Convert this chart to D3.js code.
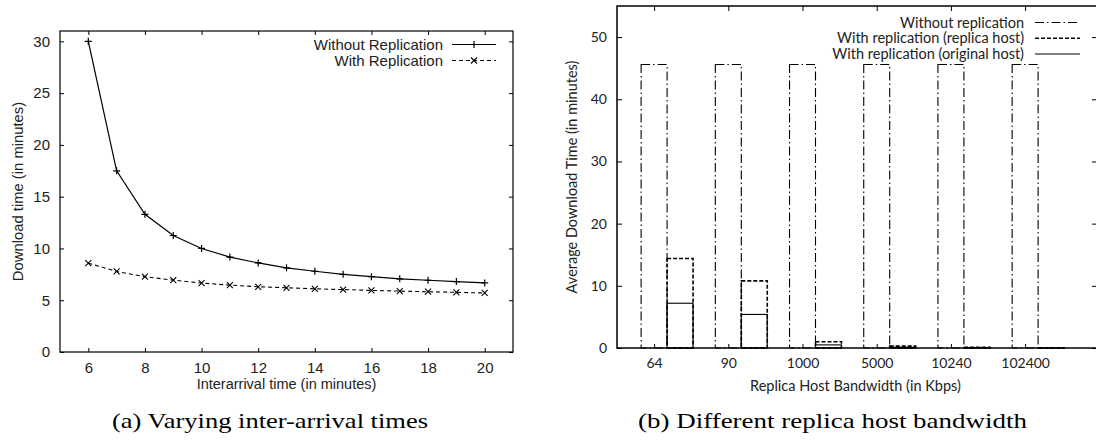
<!DOCTYPE html>
<html>
<head>
<meta charset="utf-8">
<script src="https://cdn.jsdelivr.net/npm/d3@7"></script>
<style>
  body { margin: 0; background: #fff; }
  svg { display: block; }
</style>
</head>
<body>
<div id="chart"></div>
<script>
// Data for (a): download time vs inter-arrival time
const interarrival = [6, 7, 8, 9, 10, 11, 12, 13, 14, 15, 16, 17, 18, 19, 20];
const withoutReplication = [30, 17.5, 13.3, 11.25, 10, 9.17, 8.6, 8.13, 7.8, 7.5, 7.27, 7.07, 6.93, 6.8, 6.67];
const withReplication = [8.58, 7.78, 7.27, 6.94, 6.66, 6.46, 6.3, 6.2, 6.1, 6.03, 5.95, 5.88, 5.82, 5.76, 5.7];
const xTicksA = [6, 8, 10, 12, 14, 16, 18, 20];
const yTicksA = [0, 5, 10, 15, 20, 25, 30];

// Data for (b): average download time vs replica host bandwidth
const bandwidths = ["64", "90", "1000", "5000", "10240", "102400"];
const bwWithout = [45.6, 45.6, 45.6, 45.6, 45.6, 45.6];
const bwReplicaHost = [14.4, 10.8, 1.0, 0.3, 0.12, 0.05];
const bwOriginalHost = [7.2, 5.4, 0.5, 0.12, 0.06, 0.03];
const yTicksB = [0, 10, 20, 30, 40, 50];

const svg = d3.select("#chart").append("svg")
    .attr("width", 1096)
    .attr("height", 443);

const fontA = "'Liberation Sans', Arial, sans-serif";
const fontB = "Lato, 'Open Sans', sans-serif";

// ---------- chart (a) ----------
const A = { left: 60, top: 31, right: 513, bottom: 352 };
const xA = d3.scaleLinear().domain([5, 21]).range([A.left, A.right]);
const yA = d3.scaleLinear().domain([0, 31]).range([A.bottom, A.top]);

const gA = svg.append("g");

function styleAxis(g, font, size) {
    g.select(".domain").remove();
    g.selectAll("line").attr("stroke", "#000");
    g.selectAll("text").attr("font-family", font).attr("font-size", size).attr("fill", "#222");
}

gA.append("g")
    .attr("transform", `translate(0,${A.bottom})`)
    .call(d3.axisBottom(xA).tickValues(xTicksA).tickSize(-4).tickSizeOuter(0).tickPadding(10))
    .call(g => styleAxis(g, fontA, 15));
gA.append("g")
    .attr("transform", `translate(0,${A.top})`)
    .call(d3.axisTop(xA).tickValues(xTicksA).tickSize(-4).tickSizeOuter(0).tickFormat(""))
    .call(g => styleAxis(g, fontA, 15));
gA.append("g")
    .attr("transform", `translate(${A.left},0)`)
    .call(d3.axisLeft(yA).tickValues(yTicksA).tickSize(-4).tickSizeOuter(0).tickPadding(10))
    .call(g => styleAxis(g, fontA, 15));
gA.append("g")
    .attr("transform", `translate(${A.right},0)`)
    .call(d3.axisRight(yA).tickValues(yTicksA).tickSize(-4).tickSizeOuter(0).tickFormat(""))
    .call(g => styleAxis(g, fontA, 15));

gA.append("rect")
    .attr("x", A.left).attr("y", A.top)
    .attr("width", A.right - A.left).attr("height", A.bottom - A.top)
    .attr("fill", "none").attr("stroke", "#000").attr("stroke-width", 1.2);

const lineA = d3.line().x((d, i) => xA(interarrival[i])).y(d => yA(d));

gA.append("path")
    .datum(withoutReplication)
    .attr("d", lineA)
    .attr("fill", "none").attr("stroke", "#000").attr("stroke-width", 1.2);

gA.append("path")
    .datum(withReplication)
    .attr("d", lineA)
    .attr("fill", "none").attr("stroke", "#000").attr("stroke-width", 1.1)
    .attr("stroke-dasharray", "4,3");

function plus(g, x, y, r) {
    g.append("path").attr("d", `M${x - r},${y}H${x + r}M${x},${y - r}V${y + r}`)
        .attr("stroke", "#000").attr("stroke-width", 1.2);
}
function cross(g, x, y, r) {
    g.append("path").attr("d", `M${x - r},${y - r}L${x + r},${y + r}M${x - r},${y + r}L${x + r},${y - r}`)
        .attr("stroke", "#000").attr("stroke-width", 1.1);
}
withoutReplication.forEach((d, i) => plus(gA, xA(interarrival[i]), yA(d), 3.5));
withReplication.forEach((d, i) => cross(gA, xA(interarrival[i]), yA(d), 3));

// legend (a)
const legA = [
    { label: "Without Replication", dash: null, mark: plus, y: 44.5 },
    { label: "With Replication", dash: "4,3", mark: cross, y: 60.5 }
];
legA.forEach(l => {
    gA.append("text")
        .attr("x", 443).attr("y", l.y + 5)
        .attr("text-anchor", "end")
        .attr("font-family", fontA).attr("font-size", 15).attr("fill", "#222")
        .text(l.label);
    gA.append("line")
        .attr("x1", 452).attr("x2", 496).attr("y1", l.y).attr("y2", l.y)
        .attr("stroke", "#000").attr("stroke-width", 1.1)
        .attr("stroke-dasharray", l.dash);
    l.mark(gA, 474, l.y, l.mark === plus ? 3.5 : 3);
});

gA.append("text")
    .attr("x", (A.left + A.right) / 2).attr("y", 389)
    .attr("text-anchor", "middle")
    .attr("font-family", fontA).attr("font-size", 14.5).attr("fill", "#222")
    .text("Interarrival time (in minutes)");
gA.append("text")
    .attr("transform", `translate(23,${(A.top + A.bottom) / 2}) rotate(-90)`)
    .attr("text-anchor", "middle")
    .attr("font-family", fontA).attr("font-size", 14.8).attr("fill", "#222")
    .text("Download time (in minutes)");

// ---------- chart (b) ----------
const B = { left: 617, top: 6, right: 1098, bottom: 348 };
const xB = d3.scaleLinear().domain([-0.5, 5.982]).range([B.left, B.right]);
const yB = d3.scaleLinear().domain([0, 55]).range([B.bottom, B.top]);
const idx = d3.range(bandwidths.length);

const gB = svg.append("g");

gB.append("g")
    .attr("transform", `translate(0,${B.bottom})`)
    .call(d3.axisBottom(xB).tickValues(idx).tickFormat(i => bandwidths[i]).tickSize(-4).tickSizeOuter(0).tickPadding(10))
    .call(g => styleAxis(g, fontB, 14));
gB.append("g")
    .attr("transform", `translate(0,${B.top})`)
    .call(d3.axisTop(xB).tickValues(idx).tickSize(-5).tickSizeOuter(0).tickFormat(""))
    .call(g => styleAxis(g, fontB, 14));
gB.append("g")
    .attr("transform", `translate(${B.left},0)`)
    .call(d3.axisLeft(yB).tickValues(yTicksB).tickSize(-5).tickSizeOuter(0).tickPadding(10))
    .call(g => styleAxis(g, fontB, 14));
gB.append("g")
    .attr("transform", `translate(${B.right},0)`)
    .call(d3.axisRight(yB).tickValues(yTicksB).tickSize(-6).tickSizeOuter(0).tickFormat(""))
    .call(g => styleAxis(g, fontB, 14));

gB.append("rect")
    .attr("x", B.left).attr("y", B.top)
    .attr("width", B.right - B.left).attr("height", B.bottom - B.top)
    .attr("fill", "none").attr("stroke", "#000").attr("stroke-width", 1.5);

const halfW = 0.175;
const dashDot = "9,3,1.5,3";

function bar(values, offset, dash, width) {
    gB.append("g").selectAll("rect")
        .data(values)
        .join("rect")
        .attr("x", (d, i) => xB(i + offset - halfW))
        .attr("y", d => yB(d))
        .attr("width", xB(2 * halfW) - xB(0))
        .attr("height", d => yB(0) - yB(d))
        .attr("fill", "none")
        .attr("stroke", "#000")
        .attr("stroke-width", width)
        .attr("stroke-dasharray", dash);
}
bar(bwWithout, 0, dashDot, 1.1);
bar(bwReplicaHost, 2 * halfW, "4,2", 1.6);
bar(bwOriginalHost, 2 * halfW, null, 1.1);

// legend (b)
const legB = [
    { label: "Without replication", dash: dashDot, w: 1.1, y: 22.5 },
    { label: "With replication (replica host)", dash: "4,2", w: 1.6, y: 38.3 },
    { label: "With replication (original host)", dash: null, w: 1.1, y: 54 }
];
legB.forEach(l => {
    gB.append("text")
        .attr("x", 1024).attr("y", l.y + 5)
        .attr("text-anchor", "end")
        .attr("font-family", fontB).attr("font-size", 14.5).attr("fill", "#222")
        .text(l.label);
    gB.append("line")
        .attr("x1", 1035).attr("x2", 1080).attr("y1", l.y).attr("y2", l.y)
        .attr("stroke", "#000").attr("stroke-width", l.w)
        .attr("stroke-dasharray", l.dash);
});

gB.append("text")
    .attr("x", (B.left + B.right) / 2 - 2).attr("y", 391)
    .attr("text-anchor", "middle")
    .attr("font-family", fontB).attr("font-size", 14.5).attr("fill", "#222")
    .text("Replica Host Bandwidth (in Kbps)");
gB.append("text")
    .attr("transform", `translate(577,${(B.top + B.bottom) / 2}) rotate(-90)`)
    .attr("text-anchor", "middle")
    .attr("font-family", fontB).attr("font-size", 14.5).attr("fill", "#222")
    .text("Average Download Time (in minutes)");

// ---------- captions ----------
const fontCap = "'Liberation Serif', 'Times New Roman', serif";
svg.append("text")
    .attr("x", 112).attr("y", 428)
    .attr("font-family", fontCap).attr("font-size", 21).attr("fill", "#000")
    .attr("textLength", 316).attr("lengthAdjust", "spacingAndGlyphs")
    .text("(a)  Varying inter-arrival times");
svg.append("text")
    .attr("x", 638).attr("y", 428)
    .attr("font-family", fontCap).attr("font-size", 21).attr("fill", "#000")
    .attr("textLength", 389).attr("lengthAdjust", "spacingAndGlyphs")
    .text("(b)  Different replica host bandwidth");
</script>
</body>
</html>
